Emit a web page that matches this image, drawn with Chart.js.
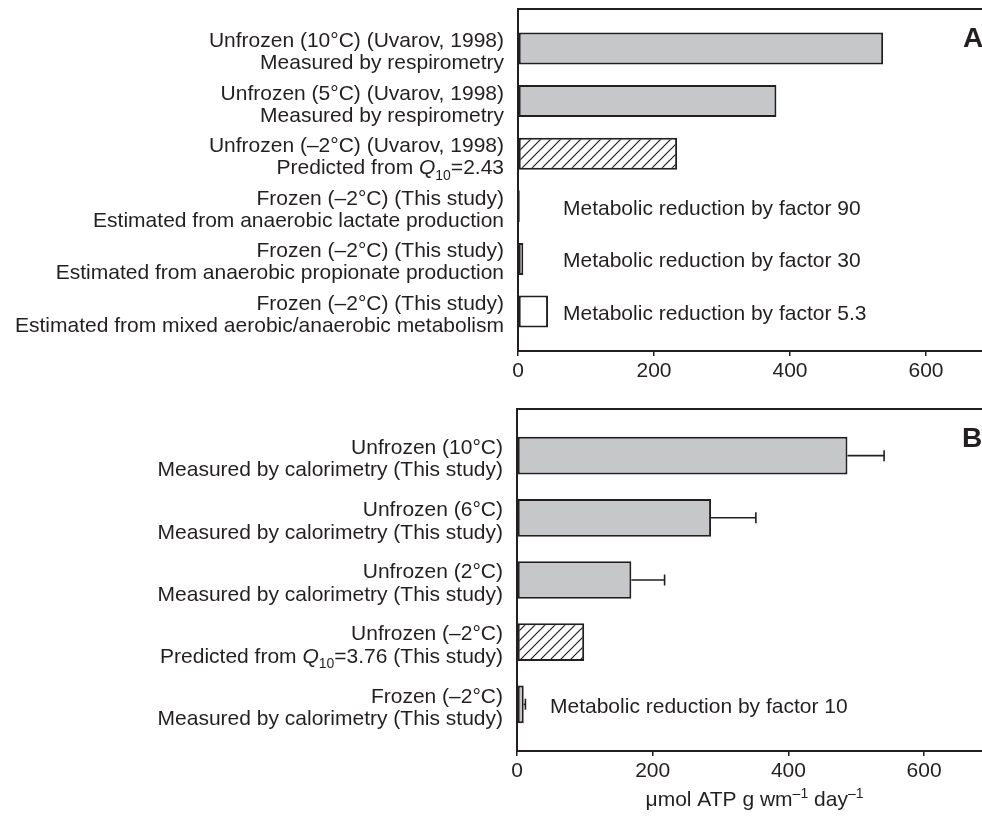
<!DOCTYPE html>
<html>
<head>
<meta charset="utf-8">
<script src="https://cdn.jsdelivr.net/npm/chart.js@4/dist/chart.umd.min.js"></script>
<style>
  html, body { margin: 0; padding: 0; background: #fff; overflow: hidden; width: 982px; height: 818px; }
  .panel { position: absolute; left: 0; width: 1000px; }
  #wrapA { top: 0; height: 390px; }
  #wrapB { top: 390px; height: 428px; }
</style>
</head>
<body>
<div class="panel" id="wrapA"><canvas id="chartA"></canvas></div>
<div class="panel" id="wrapB"><canvas id="chartB"></canvas></div>
<script>
// ---- Panel A: literature values and estimates for the frozen state ----
const labelsA = [
  ["Unfrozen (10°C) (Uvarov, 1998)", "Measured by respirometry"],
  ["Unfrozen (5°C) (Uvarov, 1998)", "Measured by respirometry"],
  ["Unfrozen (–2°C) (Uvarov, 1998)", "Predicted from *Q*_{10}=2.43"],
  ["Frozen (–2°C) (This study)", "Estimated from anaerobic lactate production"],
  ["Frozen (–2°C) (This study)", "Estimated from anaerobic propionate production"],
  ["Frozen (–2°C) (This study)", "Estimated from mixed aerobic/anaerobic metabolism"]
];
const valuesA = [537, 380, 234, 2.6, 7.8, 44.2];
const kindsA = ["measured", "measured", "predicted", "estimated", "estimated", "estimated"];
const notesA = ["", "", "",
  "Metabolic reduction by factor 90",
  "Metabolic reduction by factor 30",
  "Metabolic reduction by factor 5.3"];

// ---- Panel B: calorimetry (this study) ----
const labelsB = [
  ["Unfrozen (10°C)", "Measured by calorimetry (This study)"],
  ["Unfrozen (6°C)", "Measured by calorimetry (This study)"],
  ["Unfrozen (2°C)", "Measured by calorimetry (This study)"],
  ["Unfrozen (–2°C)", "Predicted from *Q*_{10}=3.76 (This study)"],
  ["Frozen (–2°C)", "Measured by calorimetry (This study)"]
];
const valuesB = [487, 286, 168.5, 99, 9.9];
const errorsB = [54, 66, 49, 0, 2.5];
const kindsB = ["measured", "measured", "measured", "predicted", "measured"];
const notesB = ["", "", "", "", "Metabolic reduction by factor 10"];

const xTicks = [0, 200, 400, 600];
const xMax = 700;
const axisTitle = "μmol ATP g wm^{–1} day^{–1}";

const FONT = '"Liberation Sans", Arial, Helvetica, sans-serif';
const INK = '#231f20';
const GREY = '#c6c7c9';
const FS = 21;

Chart.defaults.font.family = FONT;
Chart.defaults.font.size = FS;
Chart.defaults.color = INK;

// diagonal hatching for predicted values
function hatchPattern() {
  const c = document.createElement('canvas');
  c.width = 10; c.height = 10;
  const g = c.getContext('2d');
  g.fillStyle = '#fff'; g.fillRect(0, 0, 10, 10);
  g.strokeStyle = INK; g.lineWidth = 1.2;
  g.beginPath();
  g.moveTo(-1, 11); g.lineTo(11, -1);
  g.moveTo(-1, 1); g.lineTo(1, -1);
  g.moveTo(9, 11); g.lineTo(11, 9);
  g.stroke();
  return g.createPattern(c, 'repeat');
}
const HATCH = hatchPattern();
const fillFor = k => k === 'predicted' ? HATCH : (k === 'estimated' ? '#ffffff' : GREY);

// tiny markup: *x* italic, _{x} subscript, ^{x} superscript
function parseRich(str) {
  const runs = [];
  const re = /\*([^*]+)\*|_\{([^}]+)\}|\^\{([^}]+)\}|([^*_^]+)/g;
  let m;
  while ((m = re.exec(str))) {
    if (m[1] !== undefined) runs.push({ t: m[1], s: 'it' });
    else if (m[2] !== undefined) runs.push({ t: m[2], s: 'sub' });
    else if (m[3] !== undefined) runs.push({ t: m[3], s: 'sup' });
    else runs.push({ t: m[4], s: 'n' });
  }
  return runs;
}
function runFont(s, size) {
  if (s === 'it') return `italic ${size}px ${FONT}`;
  if (s === 'sub' || s === 'sup') return `${Math.round(size * 0.68)}px ${FONT}`;
  return `${size}px ${FONT}`;
}
function drawRich(ctx, str, x, y, size, align) {
  const runs = parseRich(str);
  let w = 0;
  runs.forEach(r => { ctx.font = runFont(r.s, size); r.w = ctx.measureText(r.t).width; w += r.w; });
  let cx = align === 'right' ? x - w : (align === 'center' ? x - w / 2 : x);
  ctx.textAlign = 'left';
  runs.forEach(r => {
    ctx.font = runFont(r.s, size);
    const dy = r.s === 'sub' ? size * 0.26 : (r.s === 'sup' ? -size * 0.36 : 0);
    ctx.fillText(r.t, cx, y + dy);
    cx += r.w;
  });
}

function panelPlugin(cfg) {
  return {
    id: 'panelDecor',
    afterDatasetsDraw(chart) {
      const { ctx, chartArea: a, scales: { x, y } } = chart;
      ctx.save();
      // frame (top and right edges)
      ctx.strokeStyle = INK; ctx.lineWidth = 2;
      ctx.beginPath();
      ctx.moveTo(a.left, a.top); ctx.lineTo(a.right, a.top); ctx.lineTo(a.right, a.bottom);
      ctx.stroke();

      // error bars (positive side)
      if (cfg.errors) {
        const meta = chart.getDatasetMeta(0);
        ctx.lineWidth = 1.6;
        meta.data.forEach((bar, i) => {
          const e = cfg.errors[i];
          if (!e) return;
          const x1 = x.getPixelForValue(cfg.values[i] + e);
          ctx.beginPath();
          ctx.moveTo(bar.x, bar.y); ctx.lineTo(x1, bar.y);
          ctx.moveTo(x1, bar.y - 5.5); ctx.lineTo(x1, bar.y + 5.5);
          ctx.stroke();
        });
      }

      ctx.fillStyle = INK;
      ctx.textBaseline = 'alphabetic';
      // category labels
      cfg.labels.forEach((lines, i) => {
        const yc = y.getPixelForValue(i) + cfg.labelShift;
        lines.forEach((ln, k) => {
          const yy = yc + (k - (lines.length - 1) / 2) * cfg.lineHeight + FS * 0.36;
          drawRich(ctx, ln, a.left - 14, yy, FS, 'right');
        });
      });
      // notes beside the small bars
      cfg.notes.forEach((t, i) => {
        if (t) drawRich(ctx, t, a.left + cfg.noteOffset, y.getPixelForValue(i) + FS * 0.36 + 1, FS, 'left');
      });
      // panel letter
      ctx.font = `bold 28px ${FONT}`;
      ctx.textAlign = 'left';
      ctx.fillText(cfg.letter, a.left + 445, a.top + 38);
      // x-axis title
      if (cfg.title) drawRich(ctx, cfg.title, (a.left + a.right) / 2, a.bottom + 55, FS, 'center');
      ctx.restore();
    }
  };
}

function makePanel(id, p) {
  const n = p.labels.length;
  return new Chart(document.getElementById(id), {
    type: 'bar',
    data: {
      datasets: [{
        data: p.values.map((v, i) => ({ x: v, y: i })),
        backgroundColor: p.kinds.map(fillFor),
        borderColor: INK,
        borderWidth: 2,
        borderSkipped: false,
        categoryPercentage: 1,
        barPercentage: 0.607
      }]
    },
    options: {
      indexAxis: 'y',
      responsive: true,
      maintainAspectRatio: false,
      animation: false,
      devicePixelRatio: 1,
      layout: { padding: { top: p.padTop, right: p.padRight, left: 0, bottom: 0 } },
      plugins: { legend: { display: false }, tooltip: { enabled: false } },
      scales: {
        x: {
          type: 'linear', min: 0, max: xMax, offset: false,
          afterBuildTicks: s => { s.ticks = xTicks.map(v => ({ value: v })); },
          afterFit: s => { s.height = p.bottomHeight; },
          ticks: { color: INK, font: { size: FS }, padding: 3, maxRotation: 0, autoSkip: false },
          grid: { drawOnChartArea: false, drawTicks: true, tickLength: 5, color: INK, lineWidth: 1.5, offset: false },
          border: { display: true, color: INK, width: 2 }
        },
        y: {
          type: 'linear', reverse: true, min: -0.75, max: n - 0.25, offset: false,
          afterBuildTicks: s => { s.ticks = p.labels.map((_, i) => ({ value: i })); },
          afterFit: s => { s.width = p.leftWidth; },
          ticks: { display: false },
          grid: { display: false, drawTicks: false, offset: false },
          border: { display: true, color: INK, width: 2 }
        }
      }
    },
    plugins: [panelPlugin({
      labels: p.labels, values: p.values, errors: p.errors, notes: p.notes,
      letter: p.letter, title: p.title, lineHeight: p.lineHeight,
      labelShift: p.labelShift, noteOffset: p.noteOffset
    })]
  });
}

makePanel('chartA', {
  labels: labelsA, values: valuesA, kinds: kindsA, notes: notesA, errors: null,
  letter: 'A', title: null, padTop: 9, padRight: 6, leftWidth: 518, bottomHeight: 39,
  lineHeight: 22, labelShift: 2, noteOffset: 45
});
makePanel('chartB', {
  labels: labelsB, values: valuesB, kinds: kindsB, notes: notesB, errors: errorsB,
  letter: 'B', title: axisTitle, padTop: 19, padRight: 8, leftWidth: 517, bottomHeight: 67,
  lineHeight: 22.5, labelShift: 2, noteOffset: 33
});
</script>
</body>
</html>
